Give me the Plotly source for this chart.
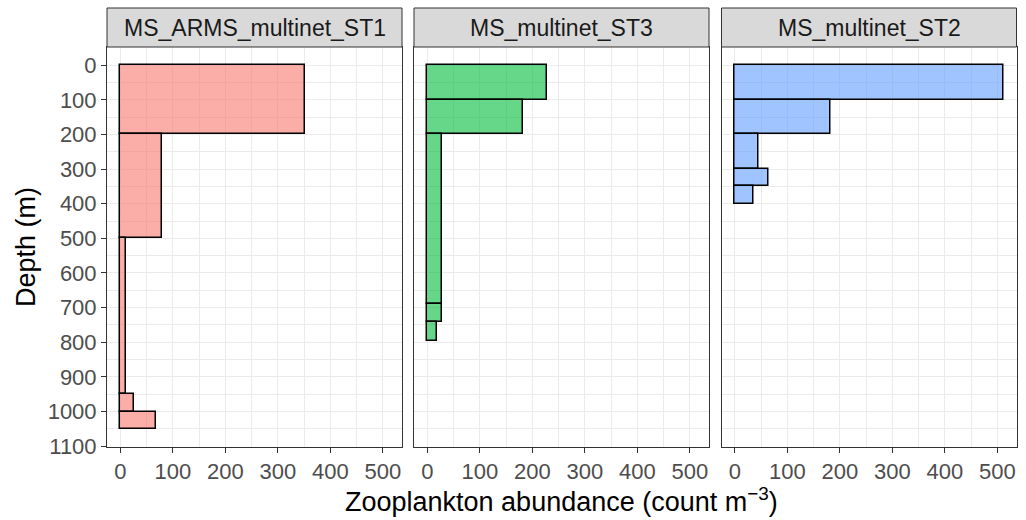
import plotly.graph_objects as go

# ---- data ----
panels = ["MS_ARMS_multinet_ST1", "MS_multinet_ST3", "MS_multinet_ST2"]

st1_top = [0, 200, 500, 950, 1000]
st1_bottom = [200, 500, 950, 1000, 1050]
st1_abund = [352, 80, 10, 26, 67]

st3_top = [0, 100, 200, 690, 742]
st3_bottom = [100, 200, 690, 742, 795]
st3_abund = [227, 182, 28, 28, 19]

st2_top = [0, 100, 200, 300, 350]
st2_bottom = [100, 200, 300, 350, 400]
st2_abund = [511, 183, 45, 64, 36]

fills = ["rgba(248,118,109,0.6)", "rgba(0,186,56,0.6)", "rgba(97,156,255,0.6)"]

x_ticks = [0, 100, 200, 300, 400, 500]
y_ticks = [0, 100, 200, 300, 400, 500, 600, 700, 800, 900, 1000, 1100]

W, H = 1026, 520
FONT = "Liberation Sans, Arial, sans-serif"

fig = go.Figure()

series = [(st1_top, st1_bottom, st1_abund), (st3_top, st3_bottom, st3_abund), (st2_top, st2_bottom, st2_abund)]
for i, (tops, bots, vals) in enumerate(series):
    mids = [(t + b) / 2 for t, b in zip(tops, bots)]
    widths = [b - t for t, b in zip(tops, bots)]
    sfx = "" if i == 0 else str(i + 1)
    fig.add_trace(go.Bar(
        x=vals, y=mids, width=widths, base=0, orientation="h",
        marker=dict(color=fills[i], line=dict(color="black", width=1.5)),
        xaxis="x" + sfx, yaxis="y" + sfx, showlegend=False,
    ))

# panel pixel extents
px_left = [107, 414, 721.5]
px_right = [402, 709, 1016.5]
py_top, py_bot = 47, 447
strip_top = 8

grid = "#ebebeb"
layout = dict(
    width=W, height=H, margin=dict(l=0, r=0, t=0, b=0, autoexpand=False),
    plot_bgcolor="white", paper_bgcolor="white",
    font=dict(family=FONT, size=22, color="#4d4d4d"),
    barmode="overlay", bargap=0,
)
shapes = []
annotations = []
for i in range(3):
    sfx = "" if i == 0 else str(i + 1)
    xd = [px_left[i] / W, px_right[i] / W]
    yd = [1 - py_bot / H, 1 - py_top / H]
    layout["xaxis" + sfx] = dict(
        domain=xd, anchor="y" + sfx, range=[-25.55, 536.55], automargin=False,
        tickvals=x_ticks, ticks="outside", ticklen=5, tickwidth=1, tickcolor="#333333",
        showline=True, mirror=True, linecolor="#333333", linewidth=1,
        showgrid=True, gridcolor=grid, gridwidth=1.1, zeroline=False,
        minor=dict(tickvals=[50, 150, 250, 350, 450], showgrid=True, gridcolor=grid, gridwidth=0.6, ticks=""),
        tickfont=dict(size=22, color="#4d4d4d"),
    )
    layout["yaxis" + sfx] = dict(
        domain=yd, anchor="x" + sfx, range=[1102.5, -52.5], automargin=False,
        tickvals=y_ticks, ticks="outside" if i == 0 else "", ticklen=5, tickwidth=1, tickcolor="#333333",
        showticklabels=(i == 0),
        showline=True, mirror=True, linecolor="#333333", linewidth=1,
        showgrid=True, gridcolor=grid, gridwidth=1.1, zeroline=False,
        minor=dict(tickvals=[50 + 100 * k for k in range(11)], showgrid=True, gridcolor=grid, gridwidth=0.6, ticks=""),
        tickfont=dict(size=22, color="#4d4d4d"),
    )
    shapes.append(dict(
        type="rect", xref="paper", yref="paper",
        x0=xd[0], x1=xd[1], y0=1 - py_top / H, y1=1 - strip_top / H,
        fillcolor="#d9d9d9", line=dict(color="#333333", width=1), layer="above",
    ))
    annotations.append(dict(
        text=panels[i], xref="paper", yref="paper",
        x=(xd[0] + xd[1]) / 2, y=1 - (py_top + strip_top) / 2 / H,
        xanchor="center", yanchor="middle", showarrow=False,
        font=dict(family=FONT, size=23, color="#1a1a1a"),
    ))

annotations.append(dict(
    text="Depth (m)", xref="paper", yref="paper", x=26 / W, y=1 - (py_top + py_bot) / 2 / H,
    xanchor="center", yanchor="middle", textangle=-90, showarrow=False,
    font=dict(family=FONT, size=27, color="black"),
))
annotations.append(dict(
    text="Zooplankton abundance (count m<sup>−3</sup>)", xref="paper", yref="paper",
    x=(px_left[0] + px_right[2]) / 2 / W, y=1 - 500 / H,
    xanchor="center", yanchor="middle", showarrow=False,
    font=dict(family=FONT, size=27, color="black"),
))
layout["shapes"] = shapes
layout["annotations"] = annotations
fig.update_layout(**layout)
fig.write_html("out.html")
